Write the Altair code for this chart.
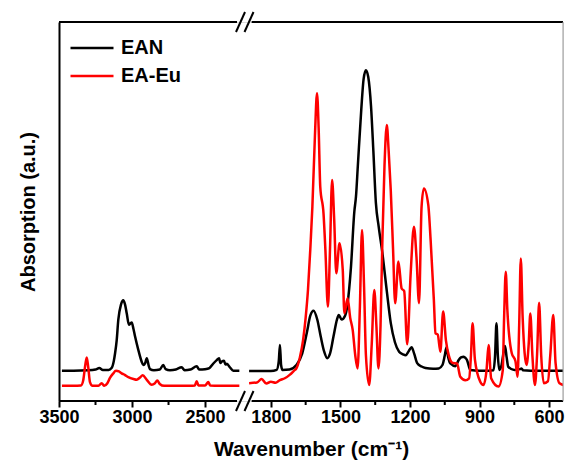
import altair as alt
import pandas as pd

# ---- data (wavenumber cm^-1, absorbance a.u.) ----
ean_left_w = [3480, 3400, 3300, 3250, 3224, 3200, 3160, 3140, 3125, 3116, 3105, 3094, 3075, 3060,
              3048, 3036, 3021, 3010, 3002, 2990, 2979, 2957, 2935, 2923, 2910, 2899, 2885, 2877,
              2850, 2810, 2786, 2770, 2740, 2700, 2660, 2640, 2600, 2557, 2540, 2500, 2470, 2443,
              2420, 2404, 2395, 2385, 2370, 2360, 2350, 2330, 2306, 2265]
ean_left_v = [8.0, 8.0, 8.1, 8.3, 8.7, 8.2, 8.2, 8.7, 10.5, 12.6, 16.0, 21.4, 25.5, 26.6,
              25.5, 23.1, 20.1, 20.5, 20.7, 19.0, 17.0, 13.5, 10.5, 9.5, 10.0, 11.3, 9.2, 8.4,
              8.1, 8.3, 9.5, 8.4, 8.1, 8.3, 8.9, 8.1, 8.3, 9.2, 8.3, 8.4, 8.7, 9.9,
              10.8, 11.3, 10.0, 10.4, 10.6, 9.6, 9.8, 8.9, 8.0, 8.0]

eu_left_w = [3480, 3400, 3350, 3334, 3320, 3310, 3300, 3288, 3270, 3230, 3208, 3190, 3170, 3151,
             3130, 3110, 3090, 3071, 3050, 3025, 2990, 2968, 2945, 2927, 2899, 2865, 2845, 2827,
             2810, 2780, 2700, 2600, 2570, 2557, 2545, 2500, 2477, 2465, 2400, 2300, 2265]
eu_left_v = [4.0, 4.0, 4.1, 5.5, 9.5, 11.5, 9.0, 5.0, 4.0, 4.0, 4.7, 4.0, 4.6, 6.1,
             7.2, 8.0, 7.8, 7.3, 6.9, 6.3, 5.8, 5.6, 6.2, 6.8, 5.6, 4.3, 4.6, 5.4,
             4.5, 4.0, 4.0, 4.0, 4.1, 5.2, 4.1, 4.1, 5.0, 4.1, 4.0, 4.0, 4.0]

ean_right_w = [1894, 1800, 1775, 1766, 1761, 1756, 1750, 1720, 1690, 1665, 1645, 1630, 1616, 1600,
               1585, 1570, 1557, 1545, 1530, 1515, 1507, 1495, 1480, 1469, 1455, 1440, 1433, 1425,
               1410, 1400, 1390, 1380, 1368, 1358, 1347, 1335, 1319, 1300, 1283, 1265, 1247, 1230,
               1218, 1205, 1193, 1182, 1169, 1150, 1133, 1100, 1076, 1060, 1050, 1043, 1035, 1026,
               1004, 990, 980, 968, 960, 954, 940, 900, 860, 840, 833, 827, 821, 815, 805,
               796, 790, 783, 776, 750, 725, 719, 712, 680, 600, 510]
ean_right_v = [7.9, 7.9, 8.2, 10.5, 14.8, 9.5, 8.2, 8.3, 9.5, 12.5, 18.0, 22.5, 23.8, 21.5,
               17.0, 13.0, 11.3, 12.5, 17.0, 21.5, 22.7, 21.5, 22.5, 25.8, 35.0, 50.0, 53.9, 62.0,
               77.0, 85.0, 87.3, 85.5, 77.7, 66.0, 52.2, 46.0, 39.0, 29.0, 20.6, 15.5, 13.0, 12.3,
               12.1, 13.2, 14.2, 12.5, 10.0, 9.1, 8.7, 8.5, 8.6, 9.5, 12.0, 14.1, 11.5, 9.9,
               9.2, 10.8, 11.5, 11.7, 11.3, 10.8, 8.2, 8.0, 8.0, 8.1, 12.0, 20.5, 12.0, 8.2, 9.5,
               13.0, 14.5, 11.5, 9.0, 8.2, 8.4, 8.6, 8.1, 8.0, 8.0, 8.0]

eu_right_w = [1894, 1860, 1840, 1820, 1800, 1780, 1761, 1740, 1719, 1700, 1690, 1675, 1661, 1650,
              1640, 1630, 1621, 1610, 1601, 1594, 1587, 1573, 1565, 1554, 1545, 1536, 1527, 1518,
              1504, 1490, 1483, 1469, 1458, 1447, 1436, 1426, 1416, 1407, 1398, 1390, 1376, 1365,
              1354, 1345, 1336, 1327, 1319, 1310, 1300, 1292, 1283, 1273, 1264, 1250, 1236, 1225,
              1212, 1197, 1183, 1172, 1161, 1150, 1140, 1121, 1111, 1097, 1090, 1080, 1069, 1057,
              1045, 1033, 1015, 997, 983, 961, 945, 937, 930, 920, 897, 883, 870, 861,
              850, 818, 800, 794, 787, 780, 761, 745, 736, 729, 722, 714, 697, 688,
              681, 672, 661, 652, 643, 634, 623, 605, 595, 582, 572, 555, 533, 519, 510]
eu_right_v = [4.7, 4.9, 5.8, 4.6, 5.1, 4.8, 5.5, 6.0, 6.9, 8.0, 8.6, 11.5, 16.1, 22.0,
              29.3, 40.0, 51.3, 70.0, 81.2, 72.0, 56.5, 49.5, 40.0, 24.9, 40.0, 58.3, 48.0, 33.7,
              41.6, 34.6, 23.1, 27.1, 22.0, 18.7, 12.0, 8.6, 25.0, 45.1, 30.0, 12.0, 4.2, 15.0,
              29.3, 20.0, 8.6, 20.0, 42.5, 62.0, 72.8, 66.0, 55.7, 40.0, 25.8, 36.8, 29.7, 29.0,
              15.0, 33.7, 46.0, 38.0, 25.8, 51.3, 56.1, 51.7, 42.5, 26.6, 17.9, 17.5, 13.0, 23.6,
              16.0, 12.1, 10.0, 9.9, 6.4, 5.5, 6.0, 12.0, 20.5, 11.0, 5.1, 4.2, 8.0, 14.8,
              6.0, 3.8, 8.0, 22.0, 34.1, 24.0, 12.6, 10.5, 6.4, 20.0, 37.6, 22.0, 9.5, 15.0,
              23.1, 12.0, 4.2, 12.0, 25.9, 12.0, 4.7, 5.2, 12.0, 22.7, 10.0, 4.7, 4.2, 5.5, 5.0]

series_names = ["EAN", "EA-Eu"]
series_colors = ["#000000", "#ff0000"]

major_ticks = [3500, 3000, 2500, 1800, 1500, 1200, 900, 600]
minor_ticks = [3250, 2750, 1650, 1350, 1050, 750]

# broken axis: two wavenumber ranges
left_range = [3500, 2281]   # spine segments
right_range = [1883, 540]

W, H = 504, 379


def frame(name, seg, ws, vs):
    return pd.DataFrame({"series": name, "seg": seg, "w": ws, "v": vs})


ean = pd.concat([frame("EAN", "L", ean_left_w, ean_left_v),
                 frame("EAN", "R", ean_right_w, ean_right_v)])
eu = pd.concat([frame("EA-Eu", "L", eu_left_w, eu_left_v),
                frame("EA-Eu", "R", eu_right_w, eu_right_v)])

FONT = "Liberation Sans"

xscale = alt.Scale(domain=[3500, 2240, 1900, 540], range=[0, 184, 188.7, W],
                   nice=False, zero=False)
yscale = alt.Scale(domain=[0, 100], nice=False, zero=False)
cscale = alt.Scale(domain=series_names, range=series_colors)

xaxis = alt.Axis(values=major_ticks, format="d", title="Wavenumber (cm⁻¹)",
                 domain=False, grid=False, tickSize=6, tickWidth=2, tickColor="black",
                 labelFont=FONT, labelFontSize=18, labelFontWeight="bold", labelColor="black",
                 labelPadding=1, labelOverlap=False, labelFlush=False,
                 titleFont=FONT, titleFontSize=21, titleFontWeight="bold", titleColor="black",
                 titlePadding=12)
yaxis = alt.Axis(title="Absorption (a.u.)", domain=True, domainWidth=2, domainColor="black",
                 ticks=False, labels=False, grid=False,
                 titleFont=FONT, titleFontSize=20, titleFontWeight="bold", titleColor="black",
                 titlePadding=21)

legend = alt.Legend(title=None, orient="none", legendX=10, legendY=12,
                    symbolType="stroke", symbolSize=43 * 43, symbolStrokeWidth=2.5,
                    clipHeight=28, rowPadding=0, padding=0,
                    labelFont=FONT, labelFontSize=20, labelFontWeight="bold",
                    labelColor="black", labelOffset=6)


def line_layer(df):
    return alt.Chart(df).mark_line(strokeWidth=2.5, interpolate="monotone", clip=True).encode(
        x=alt.X("w:Q", scale=xscale, axis=xaxis),
        y=alt.Y("v:Q", scale=yscale, axis=yaxis),
        color=alt.Color("series:N", scale=cscale, legend=legend),
        detail="seg:N",
        order=alt.Order("w:Q", sort="descending"),
    )


spine_df = pd.DataFrame({"a": [left_range[0], right_range[0]],
                         "b": [left_range[1], right_range[1]]})
top_spine = alt.Chart(spine_df).mark_rule(strokeWidth=2, color="black").encode(
    x=alt.X("a:Q", scale=xscale, axis=xaxis), x2="b:Q", y=alt.value(0))
bottom_spine = alt.Chart(spine_df).mark_rule(strokeWidth=2, color="black").encode(
    x=alt.X("a:Q", scale=xscale, axis=xaxis), x2="b:Q", y=alt.value(H))

right_spine = alt.Chart(pd.DataFrame({"w": [right_range[1]]})).mark_rule(
    strokeWidth=1, color="#999999").encode(
    x=alt.X("w:Q", scale=xscale, axis=xaxis), y=alt.value(0), y2=alt.value(H))

minor = alt.Chart(pd.DataFrame({"w": minor_ticks})).mark_rule(
    strokeWidth=2, color="black").encode(
    x=alt.X("w:Q", scale=xscale, axis=xaxis), y=alt.value(H), y2=alt.value(H + 4))

# break marks "//" on top and bottom spines
slashes = []
for y0 in (0, H):
    for dx in (0, 8.5):
        slashes.append(
            alt.Chart().mark_rule(strokeWidth=2, color="black").encode(
                x=alt.value(177 + dx), x2=alt.value(186 + dx),
                y=alt.value(y0 + 10), y2=alt.value(y0 - 10)))

chart = alt.layer(
    line_layer(ean), line_layer(eu),
    top_spine, bottom_spine, right_spine, minor, *slashes
).properties(
    width=W, height=H,
    autosize=alt.AutoSizeParams(type="none"),
    padding={"left": 51, "top": 14, "right": 2, "bottom": 62},
).configure_view(stroke=None).configure(background="white")

chart.save("out.html", embed_options={"renderer": "svg", "actions": False})
